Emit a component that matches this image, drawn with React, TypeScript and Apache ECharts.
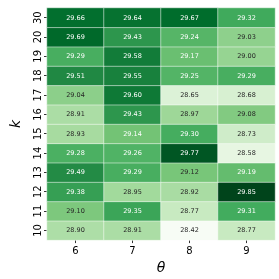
import React, { useEffect, useRef } from "react";
import * as echarts from "echarts";

const thetaLabels = ["6", "7", "8", "9"];
const kLabels = ["10", "11", "12", "13", "14", "15", "16", "17", "18", "19", "20", "30"];
// rows bottom (k=10) to top (k=30); columns theta 6..9
const row10 = [28.90, 28.91, 28.42, 28.77];
const row11 = [29.10, 29.35, 28.77, 29.31];
const row12 = [29.38, 28.95, 28.92, 29.85];
const row13 = [29.49, 29.29, 29.12, 29.19];
const row14 = [29.28, 29.26, 29.77, 28.58];
const row15 = [28.93, 29.14, 29.30, 28.73];
const row16 = [28.91, 29.43, 28.97, 29.08];
const row17 = [29.04, 29.60, 28.65, 28.68];
const row18 = [29.51, 29.55, 29.25, 29.29];
const row19 = [29.29, 29.58, 29.17, 29.00];
const row20 = [29.69, 29.43, 29.24, 29.03];
const row30 = [29.66, 29.64, 29.67, 29.32];
const rows = [row10, row11, row12, row13, row14, row15, row16, row17, row18, row19, row20, row30];

const greens = ["#f7fcf5", "#e5f5e0", "#c7e9c0", "#a1d99b", "#74c476", "#41ab5d", "#238b45", "#006d2c", "#00441b"];

export default function App() {
  const ref = useRef<HTMLDivElement>(null);
  useEffect(() => {
    const chart = echarts.init(ref.current!, null, { renderer: "svg" });
    const all = rows.flat();
    const vmin = Math.min(...all);
    const vmax = Math.max(...all);
    const data: any[] = [];
    rows.forEach((r, yi) => {
      r.forEach((v, xi) => {
        data.push({
          value: [xi, yi, v],
          label: { color: v > 29.13 ? "#ffffff" : "#262626" },
        });
      });
    });
    chart.setOption({
      animation: false,
      textStyle: { fontFamily: "DejaVu Sans" },
      grid: { left: 37, right: 4, top: 8, bottom: 37 },
      xAxis: {
        type: "category",
        data: thetaLabels,
        name: "θ",
        nameLocation: "middle",
        nameGap: 18,
        nameTextStyle: { fontSize: 14, fontStyle: "italic", color: "#000", fontFamily: "DejaVu Sans" },
        axisLine: { show: false },
        axisTick: { show: true, alignWithLabel: true, length: 3, lineStyle: { color: "#333" } },
        axisLabel: { fontSize: 10, color: "#000", margin: 5 },
        splitLine: { show: false },
      },
      yAxis: {
        type: "category",
        data: kLabels,
        name: "k",
        nameLocation: "middle",
        nameGap: 25,
        nameRotate: 90,
        nameTextStyle: { fontSize: 14, fontStyle: "italic", color: "#000", fontFamily: "DejaVu Sans" },
        axisLine: { show: false },
        axisTick: { show: true, alignWithLabel: true, length: 3, lineStyle: { color: "#333" } },
        axisLabel: { fontSize: 10, color: "#000", rotate: 90, margin: 5 },
        splitLine: { show: false },
      },
      visualMap: {
        show: false,
        min: vmin,
        max: vmax,
        dimension: 2,
        inRange: { color: greens },
      },
      series: [
        {
          type: "heatmap",
          data,
          itemStyle: { borderColor: "#ffffff", borderWidth: 0.5 },
          label: { show: true, fontSize: 6.5, formatter: (p: any) => p.value[2].toFixed(2) },
        },
      ],
    });
    return () => chart.dispose();
  }, []);
  return <div ref={ref} style={{ position: "fixed", left: 0, top: 0, width: 279, height: 279 }} />;
}
